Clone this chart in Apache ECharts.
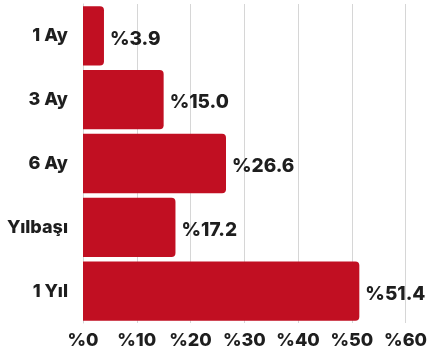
<!DOCTYPE html>
<html>
<head>
<meta charset="utf-8">
<script src="https://cdn.jsdelivr.net/npm/echarts@6/dist/echarts.min.js"></script>
<style>
  html, body { margin: 0; padding: 0; background: #ffffff; }
  #chart { width: 430px; height: 353px; }
</style>
</head>
<body>
<div id="chart"></div>
<script>
// Return periods, top to bottom
const categories = ['1 Ay', '3 Ay', '6 Ay', 'Yılbaşı', '1 Yıl'];
// Return in percent
const returns = [3.9, 15.0, 26.6, 17.2, 51.4];
// Horizontal axis range
const axisMin = 0;
const axisMax = 60;
const axisStep = 10;

const fontFamily = 'Inter, "Open Sans", sans-serif';
const textColor = '#1e1e1e';

const chart = echarts.init(document.getElementById('chart'));
chart.setOption({
  animation: false,
  grid: { left: 83, right: 22, top: 4, bottom: 30, containLabel: false },
  xAxis: {
    type: 'value',
    min: axisMin,
    max: axisMax,
    interval: axisStep,
    axisLine: { show: false },
    axisTick: { show: false },
    splitLine: { show: true, lineStyle: { color: '#d6d6d6', width: 1 } },
    axisLabel: {
      formatter: v => '%' + v,
      color: textColor,
      fontFamily: fontFamily,
      fontWeight: 800,
      fontSize: 18,
      margin: 9
    }
  },
  yAxis: {
    type: 'category',
    data: categories,
    inverse: true,
    axisLine: { show: true, lineStyle: { color: '#d6d6d6', width: 1 } },
    axisTick: { show: false },
    axisLabel: {
      color: textColor,
      fontFamily: fontFamily,
      fontWeight: 800,
      fontSize: 18,
      margin: 15
    }
  },
  series: [{
    type: 'bar',
    data: returns,
    barCategoryGap: '7%',
    itemStyle: { color: '#c10f22', borderRadius: [0, 4, 4, 0] },
    label: {
      show: true,
      position: 'right',
      distance: 6,
      offset: [0, 3],
      formatter: p => '%' + p.value.toFixed(1),
      color: textColor,
      fontFamily: fontFamily,
      fontWeight: 800,
      fontSize: 19
    }
  }]
});
</script>
</body>
</html>
